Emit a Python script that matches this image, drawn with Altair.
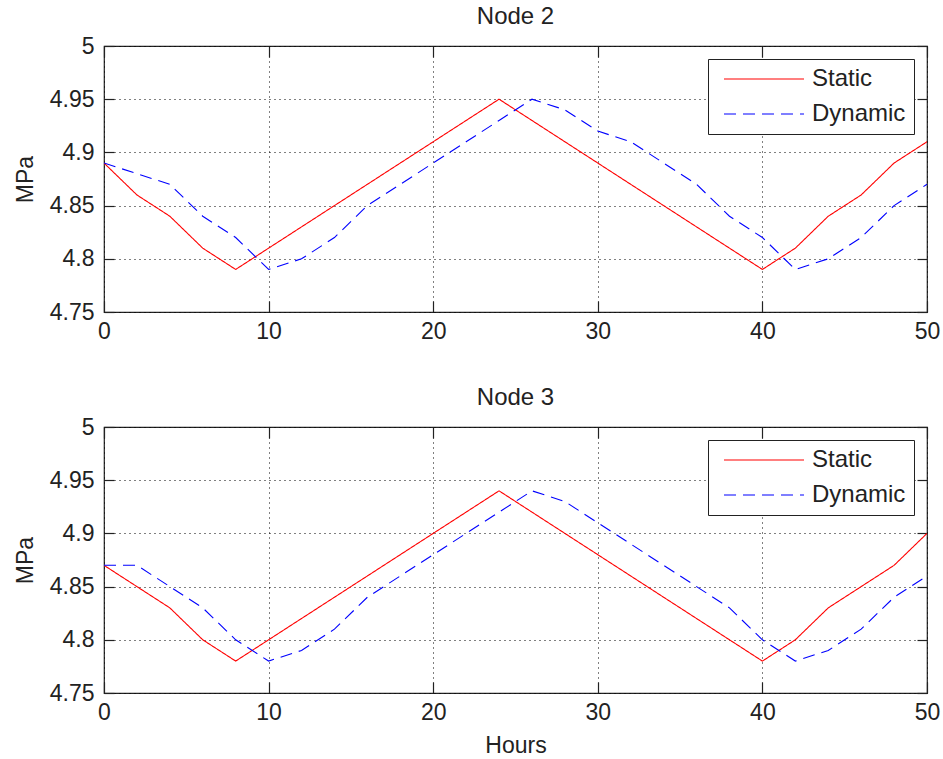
import altair as alt
import pandas as pd

hours = list(range(0, 51, 2))
node2_static = [4.89, 4.86, 4.84, 4.81, 4.79, 4.81, 4.83, 4.85, 4.87, 4.89, 4.91, 4.93, 4.95,
                4.93, 4.91, 4.89, 4.87, 4.85, 4.83, 4.81, 4.79, 4.81, 4.84, 4.86, 4.89, 4.91]
node2_dynamic = [4.89, 4.88, 4.87, 4.84, 4.82, 4.79, 4.80, 4.82, 4.85, 4.87, 4.89, 4.91, 4.93,
                 4.95, 4.94, 4.92, 4.91, 4.89, 4.87, 4.84, 4.82, 4.79, 4.80, 4.82, 4.85, 4.87]
node3_static = [4.87, 4.85, 4.83, 4.80, 4.78, 4.80, 4.82, 4.84, 4.86, 4.88, 4.90, 4.92, 4.94,
                4.92, 4.90, 4.88, 4.86, 4.84, 4.82, 4.80, 4.78, 4.80, 4.83, 4.85, 4.87, 4.90]
node3_dynamic = [4.87, 4.87, 4.85, 4.83, 4.80, 4.78, 4.79, 4.81, 4.84, 4.86, 4.88, 4.90, 4.92,
                 4.94, 4.93, 4.91, 4.89, 4.87, 4.85, 4.83, 4.80, 4.78, 4.79, 4.81, 4.84, 4.86]
series_names = ["Static", "Dynamic"]
series_colors = ["#ff0000", "#0000ff"]
series_dashes = [[1, 0], [12, 7]]
x_ticks = [0, 10, 20, 30, 40, 50]
y_ticks = [4.75, 4.8, 4.85, 4.9, 4.95, 5.0]

FONT = "Liberation Sans"
INK = "#222222"
W, H = 823, 266


def long_df(static, dynamic):
    return pd.DataFrame({
        "hour": hours * 2,
        "value": static + dynamic,
        "series": ["Static"] * len(hours) + ["Dynamic"] * len(hours),
    })


def panel(static, dynamic, title, xtitle):
    df = long_df(static, dynamic)
    x_scale = alt.Scale(domain=[0, 50], nice=False)
    y_scale = alt.Scale(domain=[4.75, 5.0], nice=False, zero=False)
    grid_kw = dict(grid=True, gridDash=[1, 4], gridColor="#000000", gridOpacity=1, gridWidth=1)
    x_axis_kw = dict(values=x_ticks, orient="bottom", offset=-11, tickSize=11, tickColor=INK,
                     tickWidth=1.2, domain=False, labelFontSize=23, labelFont=FONT,
                     labelColor=INK, labelPadding=8, labelFlush=False, titleFont=FONT,
                     titleFontSize=23, titleFontWeight="normal", titleColor=INK,
                     titlePadding=10, **grid_kw)
    x_axis_kw["title"] = xtitle if xtitle else None
    y_axis = alt.Axis(values=y_ticks, orient="left", offset=-10, tickSize=10, tickColor=INK,
                      tickWidth=1.2, domain=False, format="~g", labelFontSize=23,
                      labelFont=FONT, labelColor=INK, labelPadding=10, labelFlush=False,
                      title="MPa", titleFont=FONT, titleFontSize=23, titleFontWeight="normal",
                      titleColor=INK, titlePadding=12, **grid_kw)
    lines = alt.Chart(df).mark_line(strokeWidth=1.1, clip=True).encode(
        x=alt.X("hour:Q", scale=x_scale, axis=alt.Axis(**x_axis_kw)),
        y=alt.Y("value:Q", scale=y_scale, axis=y_axis),
        color=alt.Color("series:N", sort=series_names,
                        scale=alt.Scale(domain=series_names, range=series_colors),
                        legend=alt.Legend(title=None, orient="none", legendX=604, legendY=13,
                                          fillColor="white", strokeColor=INK, padding=8,
                                          labelFont=FONT, labelFontSize=24, labelColor=INK,
                                          labelOffset=36, rowPadding=11,
                                          symbolType="M-4,0H4", symbolSize=400,
                                          symbolStrokeWidth=1.1, symbolOffset=36)),
        strokeDash=alt.StrokeDash("series:N", sort=series_names,
                                  scale=alt.Scale(domain=series_names, range=series_dashes),
                                  legend=alt.Legend(title=None, orient="none", legendX=604,
                                                    legendY=13)),
    )
    frame_axes = alt.Chart(df).mark_line(opacity=0).encode(
        x=alt.X("hour:Q", scale=x_scale,
                axis=alt.Axis(values=x_ticks, orient="top", offset=-11, tickSize=11,
                              tickColor=INK, tickWidth=1.2, domain=False, labels=False,
                              grid=False, title=None)),
        y=alt.Y("value:Q", scale=y_scale,
                axis=alt.Axis(values=y_ticks, orient="right", offset=-10, tickSize=10,
                              tickColor=INK, tickWidth=1.2, domain=False, labels=False,
                              grid=False, title=None)),
    )
    return alt.layer(lines, frame_axes).resolve_axis(x="independent", y="independent").properties(
        width=W, height=H,
        title=alt.TitleParams(title, font=FONT, fontSize=24, fontWeight="normal", color=INK,
                              offset=6, anchor="middle"),
    )


top = panel(node2_static, node2_dynamic, "Node 2", None)
bottom = panel(node3_static, node3_dynamic, "Node 3", "Hours")

chart = alt.vconcat(top, bottom, spacing=41).resolve_legend(
    color="independent", strokeDash="independent"
).properties(
    padding={"left": 13, "top": 4, "right": 0, "bottom": 0},
    background="white",
).configure_view(stroke=INK, strokeWidth=1.2)

chart.save("out.html", embed_options={"renderer": "svg", "actions": False})
